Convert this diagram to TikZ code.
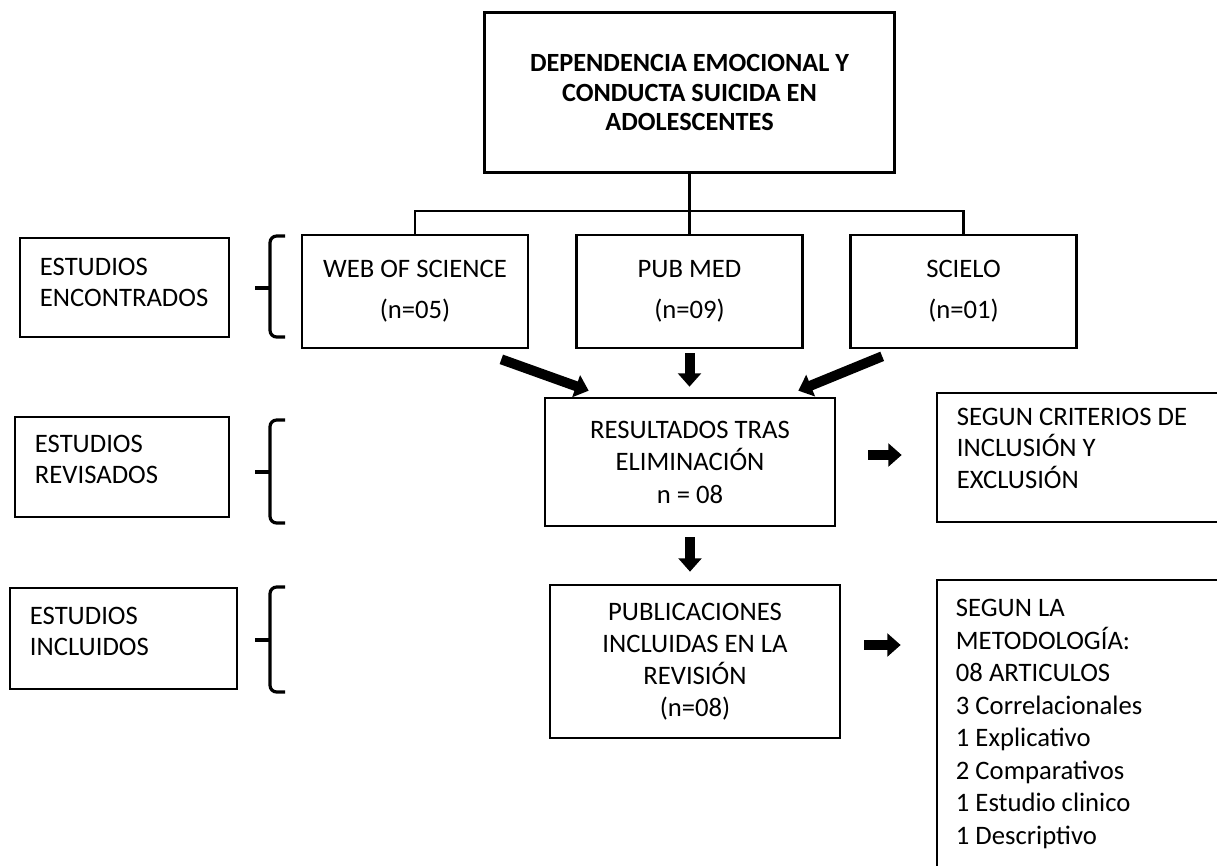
\documentclass[tikz,border=0pt]{standalone}
\usepackage{fontspec}
\setmainfont{Carlito}
\usetikzlibrary{arrows.meta}

\tikzset{
  box/.style={draw, line width=2pt, inner sep=0pt},
  lbl/.style={inner sep=0pt, align=left, anchor=north west, font=\fontsize{20}{23.6}\selectfont},
  conn/.style={line width=1.6pt},
  blk/.style={line width=7.5pt, -{Triangle[length=10pt,width=17pt]}},
  brace/.style={line width=2.4pt, rounded corners=5pt},
}

\begin{document}
\begin{tikzpicture}[x=0.75pt, y=-0.75pt, font=\fontsize{20}{24.4}\selectfont]
\useasboundingbox (0,0) rectangle (1217,865);
\clip (0,0) rectangle (1217,865);

% tema
\node[box, minimum width=307.5pt, minimum height=120pt, align=center,
  font=\bfseries\fontsize{19.7}{22.1}\selectfont] (tema) at (689.5,92.5)
  {DEPENDENCIA EMOCIONAL Y\\CONDUCTA SUICIDA EN\\ADOLESCENTES};

% bases de datos
\node[box, minimum width=169.5pt, minimum height=84.75pt, align=center,
  font=\fontsize{20}{30.75}\selectfont] (wos) at (415,291.5) {WEB OF SCIENCE\\(n=05)};
\node[box, minimum width=169.5pt, minimum height=84.75pt, align=center,
  font=\fontsize{20}{30.75}\selectfont] (pub) at (689.5,291.5) {PUB MED\\(n=09)};
\node[box, minimum width=169.5pt, minimum height=84.75pt, align=center,
  font=\fontsize{20}{30.75}\selectfont] (sci) at (963.5,291.5) {SCIELO\\(n=01)};

\coordinate (bus) at (689.5,211);
\draw[conn] (tema.south) -- (pub.north);
\draw[conn] (wos.north) |- (bus) -| (sci.north);

% resultados
\node[box, minimum width=217.5pt, minimum height=96pt, align=center] (res) at (690,462)
  {RESULTADOS TRAS\\ELIMINACIÓN\\n = 08};
\node[box, minimum width=217.5pt, minimum height=114.75pt, align=center,
  font=\fontsize{20}{24}\selectfont] (inclu) at (695,661.5)
  {PUBLICACIONES\\INCLUIDAS EN LA\\REVISIÓN\\(n=08)};

% criterios
\node[box, minimum width=242.25pt, minimum height=96.75pt] (crit) at (1098.5,457.5) {};
\node[lbl] (critt) at ([shift={(21,16)}]crit.north west)
  {SEGUN CRITERIOS DE\\INCLUSIÓN Y\\EXCLUSIÓN};
\node[box, minimum width=242.25pt, minimum height=240pt] (met) at (1098.5,740) {};
\node[lbl, font=\fontsize{20}{24.4}\selectfont] (mett) at ([shift={(20,20.5)}]met.north west)
  {SEGUN LA\\METODOLOGÍA:\\08 ARTICULOS\\3 Correlacionales\\1 Explicativo\\2 Comparativos\\1 Estudio clinico\\1 Descriptivo};

% etapas
\node[box, minimum width=156.75pt, minimum height=74.25pt] (enc) at (124.5,287.5) {};
\node[lbl] (enct) at ([shift={(21,21)}]enc.north west) {ESTUDIOS\\ENCONTRADOS};
\node[box, minimum width=160.5pt, minimum height=75pt] (rev) at (122,467) {};
\node[lbl] (revt) at ([shift={(21,19)}]rev.north west) {ESTUDIOS\\REVISADOS};
\node[box, minimum width=170.25pt, minimum height=75.75pt] (inc) at (123.5,638.5) {};
\node[lbl] (inct) at ([shift={(21,20)}]inc.north west) {ESTUDIOS\\INCLUIDOS};

% llaves
\foreach \t/\m/\b in {236/288/337, 420/472/523, 587/640/692}{
  \draw[brace] (285,\t) -- (270,\t) -- (270,\b) -- (285,\b);
  \draw[line width=2.4pt] (255,\m) -- (270,\m);
}

% flechas
\draw[blk] ([shift={(-28,10)}]wos.south east) -- ([shift={(45,-6)}]res.north west);
\draw[blk, shorten <=3pt, shorten >=7.5pt] (pub.south) -- (pub.south |- res.north);
\draw[blk] ([shift={(33,7)}]sci.south west) -- ([shift={(-38,-6)}]res.north east);
\coordinate (r1) at ([shift={(0,-7)}]res.east);
\draw[blk, shorten <=24pt, shorten >=25.5pt] (r1) -- (r1 -| crit.west);
\draw[blk, shorten <=7.5pt, shorten >=9pt] (res.south) -- (res.south |- inclu.north);
\coordinate (m1) at ([shift={(0,-16.5)}]inclu.east);
\draw[blk, shorten <=17.25pt, shorten >=26.25pt] (m1) -- (m1 -| met.west);
\end{tikzpicture}
\end{document}
